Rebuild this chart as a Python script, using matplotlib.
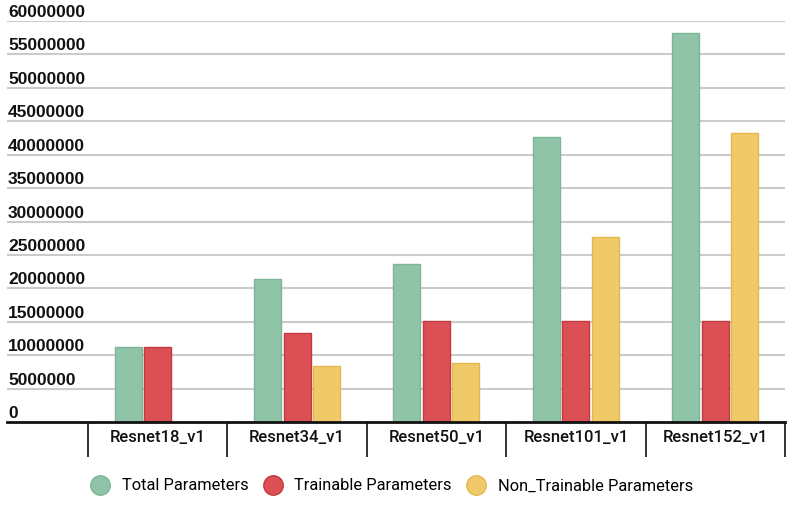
import matplotlib
matplotlib.use("Agg")
import matplotlib.pyplot as plt
from matplotlib.lines import Line2D
from matplotlib import transforms
import numpy as np

categories = ["Resnet18_v1", "Resnet34_v1", "Resnet50_v1", "Resnet101_v1", "Resnet152_v1"]
total_params = [11200000, 21400000, 23600000, 42700000, 58200000]
trainable_params = [11200000, 13300000, 15100000, 15100000, 15100000]
non_trainable_params = [0, 8400000, 8800000, 27700000, 43300000]
series_names = ["Total Parameters", "Trainable Parameters", "Non_Trainable Parameters"]
y_ticks = [0, 5000000, 10000000, 15000000, 20000000, 25000000, 30000000,
           35000000, 40000000, 45000000, 50000000, 55000000, 60000000]

colors = ["#8FC4A8", "#DC4F55", "#F0CA68"]
edges = ["#7DB596", "#C23A40", "#E3B84E"]

fig = plt.figure(figsize=(7.96, 5.12), dpi=100)
W, H = 796, 512
left, right = 7 / W, 785 / W
bottom, top = 1 - 422 / H, 1 - 21 / H
ax = fig.add_axes([left, bottom, right - left, top - bottom])

x = np.arange(len(categories))
bw = 27 / 139.4
step = 29.5 / 139.4
for k, vals in enumerate([total_params, trainable_params, non_trainable_params]):
    ax.bar(x + (k - 1) * step, vals, width=bw, color=colors[k], edgecolor=edges[k],
           linewidth=1.0, zorder=3)

ax.set_ylim(0, 60000000)
ax.set_xlim(-0.5 - 81 / 139.4, 4.5)

# grid lines
for v in y_ticks[1:]:
    ax.axhline(v, color="#CBCBCB", linewidth=1.5, zorder=1)
ax.set_yticks([])

# y labels above grid lines
trans = transforms.blended_transform_factory(ax.transAxes, ax.transData)
offset = transforms.ScaledTranslation(0, 4 / 100, fig.dpi_scale_trans)
for v in y_ticks:
    ax.text(1 / 778, v, str(v), transform=trans + offset, ha="left", va="baseline",
            fontsize=12.5, fontweight="bold", family="Liberation Sans", color="#111111")

for s in ["top", "right", "left"]:
    ax.spines[s].set_visible(False)
ax.spines["bottom"].set_linewidth(2)
ax.spines["bottom"].set_color("#111111")
ax.spines["bottom"].set_zorder(4)

ax.set_xticks(x)
ax.set_xticklabels(categories, fontsize=12, family="Roboto", fontweight="medium", color="#111111")
ax.tick_params(axis="x", which="major", length=0, pad=6)
ax.set_xticks(np.arange(-0.5, 4.6, 1.0), minor=True)
ax.tick_params(axis="x", which="minor", length=25, width=1.2, color="#111111", direction="out")

handles = [Line2D([0], [0], marker="o", linestyle="", markersize=14,
                  markerfacecolor=colors[k], markeredgecolor=edges[k], markeredgewidth=1)
           for k in range(3)]
fig.legend(handles, series_names, loc="center", bbox_to_anchor=(0.49, 1 - 486 / H),
           ncol=3, frameon=False, prop={"family": "Roboto", "size": 11.8},
           handletextpad=0.5, columnspacing=0.7, handlelength=1.6)

fig.savefig("out.png", dpi=100)
